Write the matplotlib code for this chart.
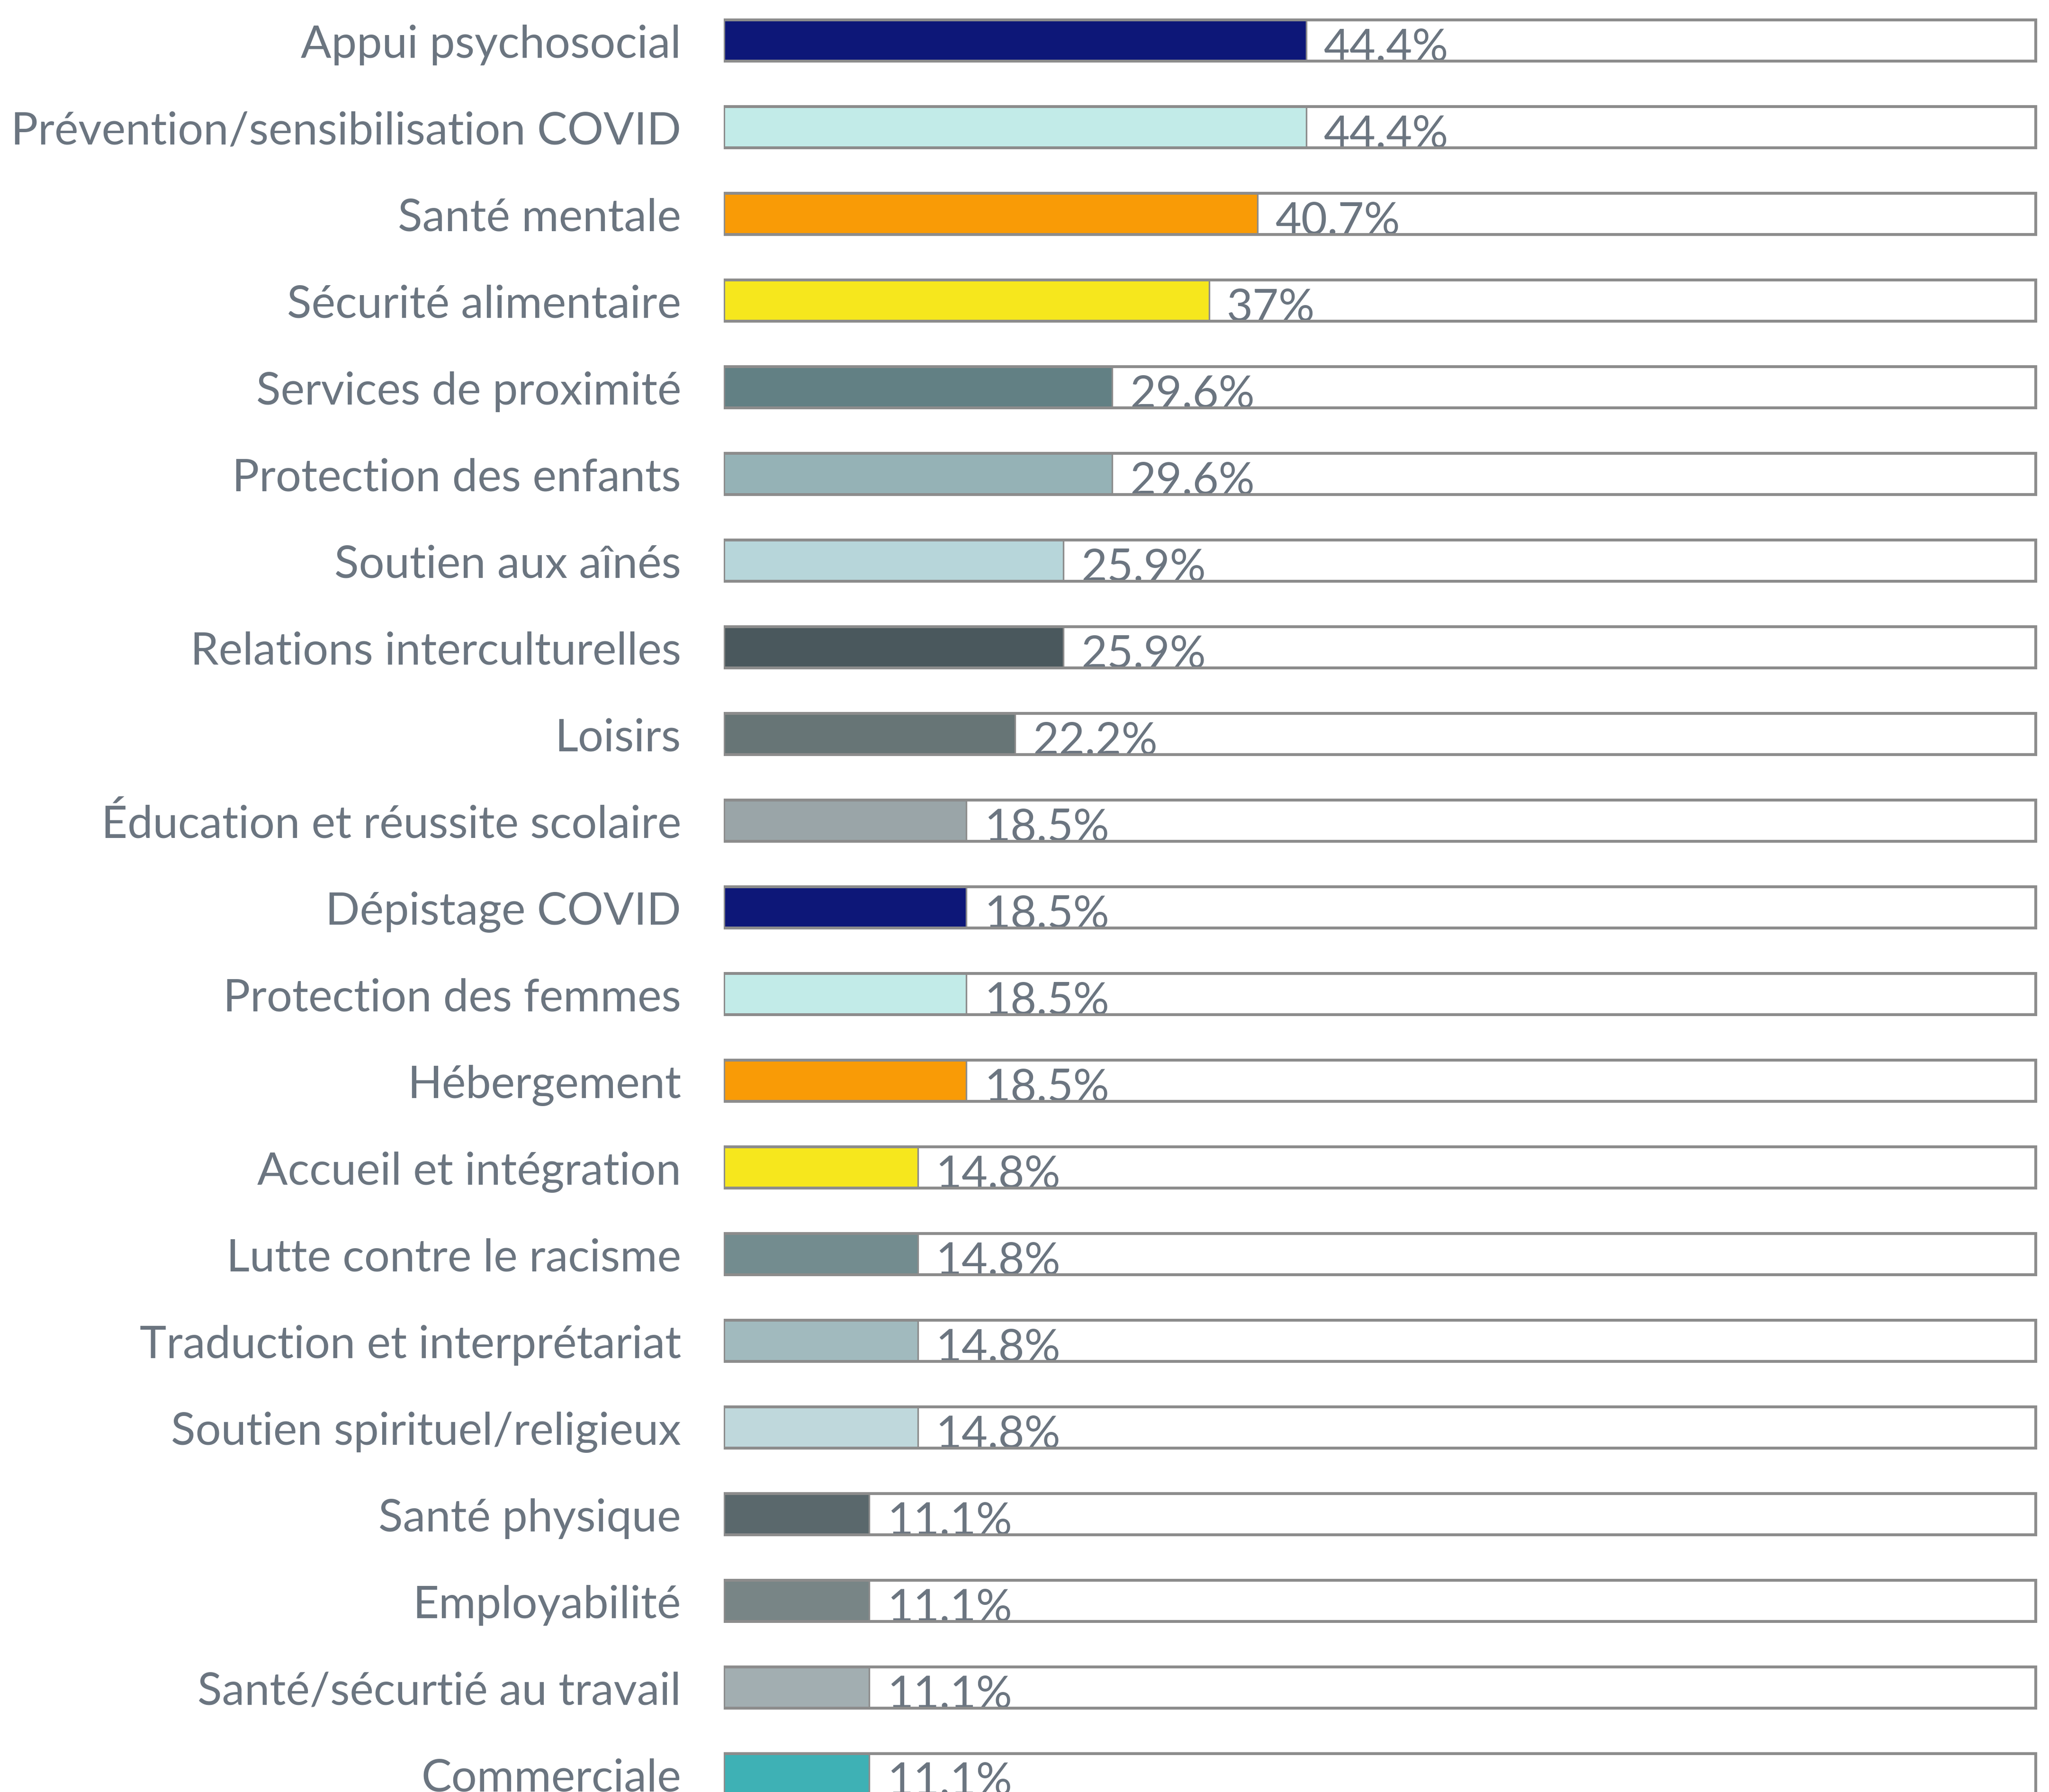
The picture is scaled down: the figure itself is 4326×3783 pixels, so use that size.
import matplotlib.pyplot as plt

# categories and percentages, top to bottom
labels = ['Appui psychosocial', 'Prévention/sensibilisation COVID', 'Santé mentale',
          'Sécurité alimentaire', 'Services de proximité', 'Protection des enfants',
          'Soutien aux aînés', 'Relations interculturelles', 'Loisirs',
          'Éducation et réussite scolaire', 'Dépistage COVID', 'Protection des femmes',
          'Hébergement', 'Accueil et intégration', 'Lutte contre le racisme',
          'Traduction et interprétariat', 'Soutien spirituel/religieux', 'Santé physique',
          'Employabilité', 'Santé/sécurtié au travail', 'Commerciale']
values = [44.4, 44.4, 40.7, 37, 29.6, 29.6, 25.9, 25.9, 22.2, 18.5, 18.5, 18.5, 18.5,
          14.8, 14.8, 14.8, 14.8, 11.1, 11.1, 11.1, 11.1]
value_text = ['44.4%', '44.4%', '40.7%', '37%', '29.6%', '29.6%', '25.9%', '25.9%',
              '22.2%', '18.5%', '18.5%', '18.5%', '18.5%', '14.8%', '14.8%', '14.8%',
              '14.8%', '11.1%', '11.1%', '11.1%', '11.1%']
colors = ['#0d1778', '#c2ebe8', '#f99b06', '#f6e71d', '#628084', '#95b2b6', '#b7d6da',
          '#4a585d', '#677576', '#9aa5a8', '#0d1778', '#c2ebe8', '#f99b06', '#f6e71d',
          '#738c8f', '#a1babe', '#bfd8dc', '#5a686c', '#788586', '#a2aeb1', '#3eb1b5']

plt.rcParams['font.family'] = ['Lato', 'DejaVu Sans']
txt_color = '#6b7580'
edge = '#8c8c8c'

fig = plt.figure(figsize=(14.42, 12.61), dpi=300)
ax = fig.add_axes([0.3532, 0.0, 0.6413, 1.0])

ypos = list(range(len(labels)))
h = 0.48

# coloured bars
ax.barh(ypos, values, height=h, color=colors, edgecolor='none', zorder=1)
# thin divider at bar end
for i, v in enumerate(values):
    ax.plot([v, v], [i - h/2, i + h/2], color=edge, lw=0.8, zorder=2)
# full-width outline boxes (100%)
ax.barh(ypos, [100]*len(ypos), height=h, color='none', edgecolor=edge, linewidth=1.45, zorder=4)

for i, v in enumerate(values):
    ax.text(v + 1.35, i + 0.235, value_text[i], fontsize=22.8, color=txt_color,
            ha='left', va='baseline', zorder=3)
    ax.text(-3.25, i + 0.197, labels[i], fontsize=22.9, color=txt_color,
            ha='right', va='baseline', clip_on=False)

ax.set_xlim(0, 100.15)
ax.set_ylim(20.205, -0.467)
ax.axis('off')

fig.savefig('out.png', dpi=300)
